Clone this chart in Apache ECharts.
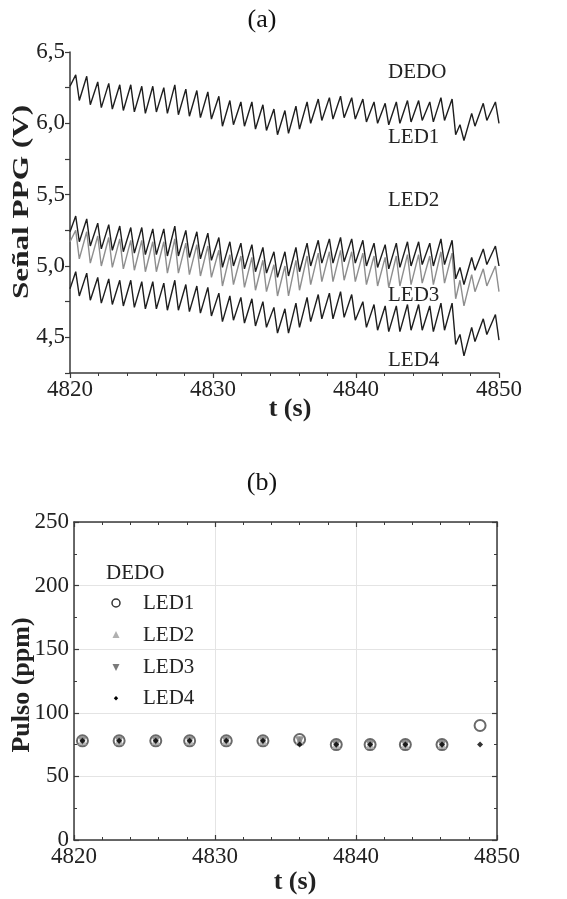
<!DOCTYPE html>
<html><head><meta charset="utf-8">
<script src="https://cdn.jsdelivr.net/npm/echarts@6/dist/echarts.min.js"></script>
<style>html,body{margin:0;padding:0;background:#fff}#c{width:567px;height:899px}</style>
</head><body><div id="c"></div>
<script>
// ---- (a) PPG signals: peak / trough times and values ----
const startT = 4820.0;
const peakT = [4820.40,4821.17,4821.94,4822.71,4823.48,4824.25,4825.02,4825.79,4826.56,4827.33,
  4828.10,4828.87,4829.64,4830.41,4831.18,4831.95,4832.72,4833.49,4834.26,4835.03,
  4835.80,4836.58,4837.36,4838.14,4838.92,4839.70,4840.48,4841.26,4842.04,4842.82,
  4843.60,4844.38,4845.16,4845.94,4846.72,4847.27,4848.09,4848.90,4849.75];
const troughT = [4820.65,4821.42,4822.19,4822.96,4823.73,4824.50,4825.27,4826.04,4826.81,4827.58,
  4828.35,4829.12,4829.89,4830.66,4831.43,4832.20,4832.97,4833.74,4834.51,4835.28,
  4836.05,4836.83,4837.61,4838.39,4839.17,4839.95,4840.73,4841.51,4842.29,4843.07,
  4843.85,4844.63,4845.41,4846.19,4846.97,4847.55,4848.32,4849.15,4850.00];

const led1Start = 6.26;
const led1Peak = [6.34,6.33,6.29,6.28,6.27,6.27,6.26,6.26,6.25,6.27,6.24,6.23,6.22,6.19,6.16,6.15,6.15,6.13,6.10,6.09,
  6.12,6.15,6.17,6.18,6.19,6.18,6.17,6.15,6.14,6.15,6.16,6.16,6.15,6.18,6.17,5.99,6.07,6.14,6.15];
const led1Trough = [6.16,6.13,6.11,6.10,6.09,6.08,6.07,6.08,6.07,6.06,6.05,6.04,6.03,5.98,5.99,5.98,5.96,5.95,5.92,5.93,
  5.96,6.00,6.02,6.03,6.04,6.03,6.01,6.00,5.99,6.00,6.01,6.02,6.01,6.02,5.92,5.88,5.98,6.02,6.00];

const led2Start = 5.24;
const led2Peak = [5.35,5.33,5.30,5.29,5.28,5.27,5.27,5.26,5.26,5.28,5.25,5.24,5.23,5.20,5.17,5.16,5.15,5.13,5.10,5.10,
  5.13,5.16,5.18,5.19,5.20,5.19,5.18,5.16,5.15,5.16,5.17,5.17,5.16,5.19,5.18,4.99,5.06,5.12,5.14];
const led2Trough = [5.17,5.14,5.12,5.11,5.10,5.09,5.08,5.08,5.07,5.07,5.06,5.05,5.04,4.99,5.00,4.98,4.96,4.95,4.92,4.93,
  4.96,5.00,5.02,5.02,5.03,5.02,5.00,4.99,4.98,4.99,5.00,5.01,5.00,5.01,4.91,4.87,4.97,5.01,5.00];

const led3Start = 5.17;
const led3Peak = [5.25,5.24,5.21,5.20,5.19,5.18,5.18,5.17,5.17,5.19,5.16,5.15,5.14,5.11,5.08,5.07,5.06,5.04,5.01,5.00,
  5.04,5.07,5.09,5.10,5.11,5.10,5.09,5.07,5.06,5.07,5.08,5.08,5.07,5.10,5.09,4.90,4.94,4.98,5.00];
const led3Trough = [5.05,5.02,5.00,4.99,4.98,4.97,4.96,4.96,4.95,4.95,4.94,4.93,4.92,4.86,4.87,4.85,4.83,4.82,4.79,4.79,
  4.83,4.87,4.89,4.89,4.90,4.89,4.87,4.86,4.85,4.86,4.87,4.88,4.87,4.88,4.77,4.72,4.82,4.86,4.82];

const led4Start = 4.84;
const led4Peak = [4.96,4.95,4.92,4.91,4.90,4.90,4.89,4.89,4.88,4.90,4.87,4.86,4.85,4.81,4.79,4.78,4.77,4.75,4.71,4.70,
  4.74,4.78,4.80,4.81,4.82,4.80,4.75,4.73,4.72,4.72,4.73,4.73,4.72,4.74,4.74,4.52,4.57,4.63,4.66];
const led4Trough = [4.79,4.76,4.74,4.73,4.72,4.71,4.70,4.70,4.69,4.69,4.68,4.67,4.65,4.61,4.62,4.60,4.58,4.57,4.53,4.53,
  4.57,4.61,4.63,4.63,4.64,4.62,4.57,4.55,4.54,4.54,4.55,4.55,4.54,4.55,4.45,4.37,4.47,4.52,4.48];

// ---- (b) pulse rate ----
const pulseT = [4820.6,4823.2,4825.8,4828.2,4830.8,4833.4,4836.0,4838.6,4841.0,4843.5,4846.1,4848.8];
const pulseLED1 = [78,78,78,78,78,78,79,75,75,75,75,90];
const pulseLED2 = [78,78,78,78,78,78,78,75,75,75,75,null];
const pulseLED3 = [78,78,78,78,78,78,78,75,75,75,75,null];
const pulseLED4 = [78,78,78,78,78,78,75,75,75,75,75,75];

const SERIF = "'Liberation Serif','Times New Roman',serif";
const AX = '#3a3a3a';

function wave(start, pk, tr){
  const d = [[startT, start]];
  for (let i = 0; i < peakT.length; i++){ d.push([peakT[i], pk[i]]); d.push([troughT[i], tr[i]]); }
  return d;
}
function pts(vals){ return pulseT.map((t,i)=>[t, vals[i]==null ? '-' : vals[i]]); }

const chart = echarts.init(document.getElementById('c'), null, {renderer:'canvas'});
const lbl = {fontFamily:SERIF, fontSize:23, color:'#222'};
const plain = v => String(v);

chart.setOption({
  animation:false,
  backgroundColor:'#fff',
  grid:[
    {left:70, top:52, width:429, height:321},
    {left:74, top:522, width:423, height:318}
  ],
  xAxis:[
    {gridIndex:0, type:'value', min:4820, max:4850, interval:10,
     axisLine:{lineStyle:{color:AX,width:1.5}},
     axisTick:{length:5, lineStyle:{color:AX,width:1.2}},
     minorTick:{show:true, splitNumber:5, length:3, lineStyle:{color:AX,width:1}},
     axisLabel:Object.assign({margin:5, formatter:plain}, lbl), splitLine:{show:false}},
    {gridIndex:1, type:'value', min:4820, max:4850, interval:10,
     axisLine:{onZero:false, lineStyle:{color:AX,width:1.5}},
     axisTick:{inside:true, length:5, lineStyle:{color:AX,width:1.2}},
     minorTick:{show:true, splitNumber:5, length:3, lineStyle:{color:AX,width:1}},
     axisLabel:Object.assign({margin:5, formatter:plain}, lbl),
     splitLine:{show:true, lineStyle:{color:'#e4e4e4',width:1}}},
    {gridIndex:1, type:'value', position:'top', min:4820, max:4850, interval:10,
     axisLine:{onZero:false, lineStyle:{color:AX,width:1.5}},
     axisTick:{inside:true, length:5, lineStyle:{color:AX,width:1.2}},
     minorTick:{show:true, splitNumber:5, length:3, lineStyle:{color:AX,width:1}},
     axisLabel:{show:false}, splitLine:{show:false}}
  ],
  yAxis:[
    {gridIndex:0, type:'value', min:4.25, max:6.5, interval:0.25,
     axisLine:{show:true, lineStyle:{color:AX,width:1.5}},
     axisTick:{show:true, length:5, lineStyle:{color:AX,width:1.2}},
     axisLabel:Object.assign({margin:5, formatter:v=>{
        const h=v*2; return Math.abs(h-Math.round(h))<1e-6 ? v.toFixed(1).replace('.',',') : '';
     }}, lbl),
     splitLine:{show:false}},
    {gridIndex:1, type:'value', min:0, max:250, interval:50,
     axisLine:{show:true, onZero:false, lineStyle:{color:AX,width:1.5}},
     axisTick:{show:true, inside:true, length:5, lineStyle:{color:AX,width:1.2}},
     minorTick:{show:true, splitNumber:2, length:3, lineStyle:{color:AX,width:1}},
     axisLabel:Object.assign({margin:5, formatter:plain}, lbl),
     splitLine:{show:true, lineStyle:{color:'#e4e4e4',width:1}}},
    {gridIndex:1, type:'value', position:'right', min:0, max:250, interval:50,
     axisLine:{show:true, onZero:false, lineStyle:{color:AX,width:1.5}},
     axisTick:{show:true, inside:true, length:5, lineStyle:{color:AX,width:1.2}},
     minorTick:{show:true, splitNumber:2, length:3, lineStyle:{color:AX,width:1}},
     axisLabel:{show:false}, splitLine:{show:false}}
  ],
  series:[
    {name:'LED3', type:'line', xAxisIndex:0, yAxisIndex:0, data:wave(led3Start,led3Peak,led3Trough),
     showSymbol:false, lineStyle:{color:'#8e8e8e',width:1.4}},
    {name:'LED1', type:'line', xAxisIndex:0, yAxisIndex:0, data:wave(led1Start,led1Peak,led1Trough),
     showSymbol:false, lineStyle:{color:'#1e1e1e',width:1.4}},
    {name:'LED2', type:'line', xAxisIndex:0, yAxisIndex:0, data:wave(led2Start,led2Peak,led2Trough),
     showSymbol:false, lineStyle:{color:'#1e1e1e',width:1.4}},
    {name:'LED4', type:'line', xAxisIndex:0, yAxisIndex:0, data:wave(led4Start,led4Peak,led4Trough),
     showSymbol:false, lineStyle:{color:'#1e1e1e',width:1.4}},

    {name:'LED1 ppm', type:'scatter', xAxisIndex:1, yAxisIndex:1, data:pts(pulseLED1),
     symbol:'circle', symbolSize:11, itemStyle:{color:'rgba(255,255,255,0)', borderColor:'#444', borderWidth:2}},
    {name:'LED2 ppm', type:'scatter', xAxisIndex:1, yAxisIndex:1, data:pts(pulseLED2),
     symbol:'triangle', symbolSize:9, itemStyle:{color:'#a8a8a8'}},
    {name:'LED3 ppm', type:'scatter', xAxisIndex:1, yAxisIndex:1, data:pts(pulseLED3),
     symbol:'triangle', symbolRotate:180, symbolSize:9, itemStyle:{color:'#7a7a7a'}},
    {name:'LED4 ppm', type:'scatter', xAxisIndex:1, yAxisIndex:1, data:pts(pulseLED4),
     symbol:'diamond', symbolSize:6, itemStyle:{color:'#000'}}
  ],
  graphic:[
    {type:'text', x:262, y:20, style:{text:'(a)', font:'26px '+SERIF, fill:'#111', textAlign:'center', textVerticalAlign:'middle'}},
    {type:'text', x:262, y:483, style:{text:'(b)', font:'26px '+SERIF, fill:'#111', textAlign:'center', textVerticalAlign:'middle'}},
    {type:'text', x:22, y:202, rotation:Math.PI/2, scaleX:1.3,
     style:{text:'Señal PPG (V)', font:'bold 24px '+SERIF, fill:'#222', textAlign:'center', textVerticalAlign:'middle'}},
    {type:'text', x:22, y:685, rotation:Math.PI/2,
     style:{text:'Pulso (ppm)', font:'bold 26px '+SERIF, fill:'#222', textAlign:'center', textVerticalAlign:'middle'}},
    {type:'text', x:290, y:409, style:{text:'t (s)', font:'bold 26px '+SERIF, fill:'#222', textAlign:'center', textVerticalAlign:'middle'}},
    {type:'text', x:295, y:882, style:{text:'t (s)', font:'bold 26px '+SERIF, fill:'#222', textAlign:'center', textVerticalAlign:'middle'}},

    {type:'text', x:388, y:72, style:{text:'DEDO', font:'21px '+SERIF, fill:'#222', textAlign:'left', textVerticalAlign:'middle'}},
    {type:'text', x:388, y:137, style:{text:'LED1', font:'21px '+SERIF, fill:'#222', textAlign:'left', textVerticalAlign:'middle'}},
    {type:'text', x:388, y:200, style:{text:'LED2', font:'21px '+SERIF, fill:'#222', textAlign:'left', textVerticalAlign:'middle'}},
    {type:'text', x:388, y:295, style:{text:'LED3', font:'21px '+SERIF, fill:'#222', textAlign:'left', textVerticalAlign:'middle'}},
    {type:'text', x:388, y:360, style:{text:'LED4', font:'21px '+SERIF, fill:'#222', textAlign:'left', textVerticalAlign:'middle'}},

    {type:'text', x:106, y:573, style:{text:'DEDO', font:'21px '+SERIF, fill:'#222', textAlign:'left', textVerticalAlign:'middle'}},
    {type:'circle', shape:{cx:116, cy:603, r:4}, style:{fill:'#fff', stroke:'#333', lineWidth:1.5}},
    {type:'polygon', shape:{points:[[116,631],[112.5,638],[119.5,638]]}, style:{fill:'#b0b0b0'}},
    {type:'polygon', shape:{points:[[112.5,664],[119.5,664],[116,671]]}, style:{fill:'#7a7a7a'}},
    {type:'polygon', shape:{points:[[116,696],[118.2,698.2],[116,700.4],[113.8,698.2]]}, style:{fill:'#000'}},
    {type:'text', x:143, y:603, style:{text:'LED1', font:'21px '+SERIF, fill:'#222', textAlign:'left', textVerticalAlign:'middle'}},
    {type:'text', x:143, y:635, style:{text:'LED2', font:'21px '+SERIF, fill:'#222', textAlign:'left', textVerticalAlign:'middle'}},
    {type:'text', x:143, y:667, style:{text:'LED3', font:'21px '+SERIF, fill:'#222', textAlign:'left', textVerticalAlign:'middle'}},
    {type:'text', x:143, y:698, style:{text:'LED4', font:'21px '+SERIF, fill:'#222', textAlign:'left', textVerticalAlign:'middle'}}
  ]
});
</script></body></html>
